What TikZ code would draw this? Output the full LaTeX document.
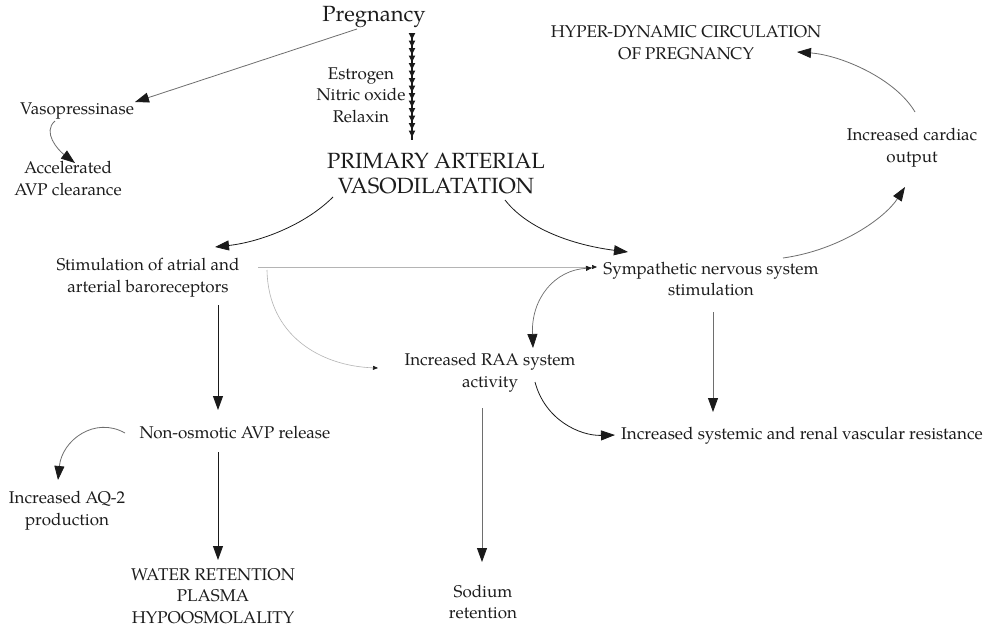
\documentclass[tikz,border=0pt]{standalone}
\usepackage{fontspec}
\setmainfont{TeX Gyre Pagella}
\usetikzlibrary{arrows.meta,decorations.markings}
\definecolor{txt}{HTML}{1C1C1C}
\definecolor{ln}{HTML}{1A1A1A}
\definecolor{lgray}{HTML}{B4B4B4}
\definecolor{mgray}{HTML}{6E6E6E}
\tikzset{
  lbl/.style={inner sep=0pt, align=center, text=txt, font=\fontsize{17}{21.5}\selectfont},
  big/.style={inner sep=0pt, align=center, text=txt, font=\fontsize{22}{25}\selectfont},
  conn/.style={draw=ln, line width=0.8pt, -{Triangle[length=14pt,width=10pt,color=ln]}},
  gconn/.style={draw=mgray, line width=0.8pt, -{Triangle[length=14pt,width=10pt,color=ln]}},
  thin/.style={draw=lgray, line width=0.6pt, -{Triangle[length=5pt,width=4pt,color=ln]}},
}
\begin{document}
\begin{tikzpicture}[x=1pt,y=-1pt]
\fill[white] (0,0) rectangle (995,627);
\useasboundingbox (0,0) rectangle (995,627);

\node[big] (preg) at (374,17) {Pregnancy};
\node[lbl] (est) at (361,95) {Estrogen\\Nitric oxide\\Relaxin};
\node[big] (pav) at (436,173.5) {PRIMARY ARTERIAL\\VASODILATATION};
\node[lbl] (vaso) at (77,111) {Vasopressinase};
\node[lbl] (acc) at (68,178.5) {Accelerated\\AVP clearance};
\node[lbl] (stim) at (148,277.5) {Stimulation of atrial and\\arterial baroreceptors};
\node[lbl] (sns) at (711,279) {Sympathetic nervous system\\stimulation};
\node[lbl] (raa) at (490,372.5) {Increased RAA system\\activity};
\node[lbl] (nonosm) at (235,432) {Non-osmotic AVP release};
\node[lbl] (aq) at (67,510.5) {Increased AQ-2\\production};
\node[lbl] (water) at (213,596) {WATER RETENTION\\PLASMA\\HYPOOSMOLALITY};
\node[lbl] (sod) at (483,602) {Sodium\\retention};
\node[lbl] (isv) at (802,436) {Increased systemic and renal vascular resistance};
\node[lbl] (card) at (912,147.5) {Increased cardiac\\output};
\node[lbl] (hyper) at (686,42.5) {HYPER-DYNAMIC CIRCULATION\\OF PREGNANCY};

% Pregnancy -> Vasopressinase
\draw[gconn] ([shift={(-17,12)}]preg.center) -- ([shift={(58,-9)}]vaso.center);
% Vasopressinase -> Accelerated
\draw[gconn] ([shift={(-22,10)}]vaso.center) .. controls (42,132) and (58,150) .. ([shift={(7,-15.5)}]acc.center);
% chain of small arrowheads Pregnancy -> PAV
\draw[ln, line width=2pt,
  decoration={markings, mark=between positions 7pt and 1 step 7.5pt with {\arrow{Triangle[length=7pt,width=6pt]}}},
  postaction={decorate}]
  ([shift={(38,16)}]preg.center) -- ([shift={(-24,-33.5)}]pav.center);
% PAV -> Stimulation
\draw[conn] ([shift={(-103,23.5)}]pav.center) .. controls (305,225) and (260,242) .. ([shift={(67,-30.5)}]stim.center);
% PAV -> SNS
\draw[conn] ([shift={(69,26.5)}]pav.center) .. controls (530,232) and (580,246) .. ([shift={(-83,-27)}]sns.center);
% Stimulation -> SNS (thin)
\draw[thin] ([shift={(110,-10.5)}]stim.center) -- ([shift={(-114,-12)}]sns.center);
% Stimulation -> RAA (thin curve)
\draw[thin] ([shift={(119,-7.5)}]stim.center) .. controls (268,335) and (320,366) .. ([shift={(-112,-4.5)}]raa.center);
% SNS <-> RAA
\draw[draw=mgray, line width=0.7pt, {Triangle[length=6pt,width=5pt,color=ln]}-{Triangle[length=14pt,width=10pt,color=ln]}]
  ([shift={(-119,-11)}]sns.center) .. controls (555,270) and (531,298) .. ([shift={(43,-24.5)}]raa.center);
% SNS -> ISV
\draw[gconn] ([shift={(2,33)}]sns.center) -- ([shift={(-89,-24)}]isv.center);
% RAA -> ISV
\draw[conn] ([shift={(45,9.5)}]raa.center) .. controls (545,420) and (580,436) .. ([shift={(-187,-1)}]isv.center);
% RAA -> Sodium
\draw[gconn] ([shift={(-8,35.5)}]raa.center) -- ([shift={(-1,-40)}]sod.center);
% Stimulation -> Non-osmotic
\draw[conn] ([shift={(70,27.5)}]stim.center) -- ([shift={(-17,-22)}]nonosm.center);
% Non-osmotic -> Water
\draw[conn] ([shift={(-17,20)}]nonosm.center) -- ([shift={(5,-36)}]water.center);
% Non-osmotic -> AQ-2
\draw[gconn] ([shift={(-110,1)}]nonosm.center) .. controls (95,416) and (62,440) .. ([shift={(-9,-30.5)}]aq.center);
% SNS -> cardiac
\draw[gconn] ([shift={(72,-21)}]sns.center) .. controls (840,250) and (885,218) .. ([shift={(-7,39.5)}]card.center);
% cardiac -> Hyper
\draw[gconn] ([shift={(3,-35.5)}]card.center) .. controls (895,78) and (840,55) .. ([shift={(111,9.5)}]hyper.center);
\end{tikzpicture}
\end{document}
